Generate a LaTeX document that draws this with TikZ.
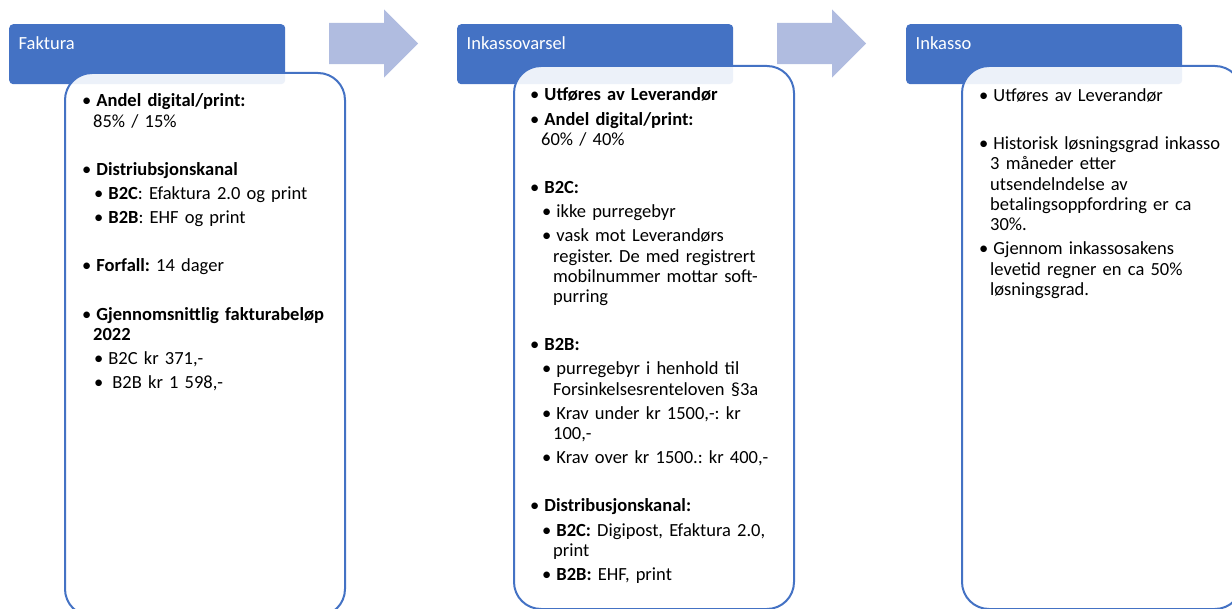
\documentclass[tikz,border=0pt]{standalone}
\usepackage{fontspec}
\setmainfont{Carlito}
\usepackage{xcolor}
\usepackage{tikz}
\usetikzlibrary{shapes.arrows, positioning, calc}

\definecolor{stageblue}{HTML}{4472C4}
\definecolor{flowblue}{HTML}{B0BCE0}

% bullet lists used in the three boxes (#1 = indent, #2 = space above)
\newenvironment{pkt}[2]{\begin{list}{\textbullet}{%
    \setlength{\leftmargin}{#1}\setlength{\labelwidth}{6pt}%
    \setlength{\labelsep}{5pt}\setlength{\itemsep}{3.8pt}%
    \setlength{\parsep}{0pt}\setlength{\topsep}{#2}%
    \setlength{\partopsep}{0pt}\setlength{\itemindent}{0pt}}}{\end{list}}
\newcommand{\blankline}{\item[]\mbox{}}

\begin{document}
\begin{tikzpicture}[
    x=1pt, y=-1pt,
    stagehead/.style={rectangle, fill=stageblue, rounded corners=4pt, minimum width=276pt, minimum height=60pt, anchor=north west, inner sep=0pt},
    stagelabel/.style={anchor=base west, inner sep=0pt, text=white, font=\fontsize{18.5}{20.3}\selectfont},
    stagebox/.style={rectangle, draw=stageblue, line width=2pt, fill=white, fill opacity=0.9, rounded corners=27pt, minimum width=280pt, minimum height=543pt, anchor=north west, inner sep=0pt},
    stagetext/.style={anchor=north west, inner sep=0pt, align=left, font=\fontsize{18.5}{20.3}\selectfont\frenchspacing},
    flowarrow/.style={single arrow, fill=flowblue, single arrow head extend=13.5pt, single arrow head indent=0pt, minimum height=89pt, inner xsep=0pt, inner ysep=20.5pt, anchor=tail}
]
    \useasboundingbox (0,0) rectangle (1232,609);

    % headers
    \node[stagehead] (faktura) at (9,24) {};
    \node[stagehead] (varsel) at (457,24) {};
    \node[stagehead] (inkasso) at (906,24) {};
    \node[stagelabel] (fakturalbl) at ($(faktura.north west)+(9.5,25.5)$) {Faktura};
    \node[stagelabel] (varsellbl) at ($(varsel.north west)+(9.5,25.5)$) {Inkassovarsel};
    \node[stagelabel] (inkassolbl) at ($(inkasso.north west)+(9.5,25.5)$) {Inkasso};

    % arrows between the stages
    \node[flowarrow] (pil1) at (329,43.5) {};
    \node[flowarrow] (pil2) at (777,43.5) {};

    % boxes
    \node[stagebox] (fakturabox) at (64,72) {};
    \node[stagebox] (varselbox) at (513,65) {};
    \node[stagebox] (inkassobox) at (961,65) {};

    \node[stagetext, text width=250pt] (fakturatxt) at (83,86.5) {%
    \begin{pkt}{10pt}{0pt}
        \item \textbf{Andel digital/print:}\newline 85\% / 15\%
        \blankline
        \item \textbf{Distriubsjonskanal}
        \begin{pkt}{12pt}{3.8pt}
            \item \textbf{B2C}: Efaktura 2.0 og print
            \item \textbf{B2B}: EHF og print
        \end{pkt}
        \blankline
        \item \textbf{Forfall:} 14 dager
        \blankline
        \item \textbf{Gjennomsnittlig fakturabeløp}\newline\textbf{2022}
        \begin{pkt}{12pt}{3.8pt}
            \item B2C kr 371,-
            \item \hspace{4pt}B2B kr 1 598,-
        \end{pkt}
    \end{pkt}};

    \node[stagetext, text width=255pt] (varseltxt) at (532,80.5) {%
    \begin{pkt}{9pt}{0pt}
        \item \textbf{Utføres av Leverandør}
        \item \textbf{Andel digital/print:}\newline 60\% / 40\%
        \blankline
        \item \textbf{B2C:}
        \begin{pkt}{12pt}{3.8pt}
            \item ikke purregebyr
            \item vask mot Leverandørs\newline register. De med registrert\newline mobilnummer mottar soft-\newline purring
        \end{pkt}
        \blankline
        \item \textbf{B2B:}
        \begin{pkt}{12pt}{3.8pt}
            \item purregebyr i henhold til\newline Forsinkelsesrenteloven §3a
            \item Krav under kr 1500,-: kr\newline 100,-
            \item Krav over kr 1500.: kr 400,-
        \end{pkt}
        \blankline
        \item \textbf{Distribusjonskanal:}
        \begin{pkt}{12pt}{3.8pt}
            \item \textbf{B2C:} Digipost, Efaktura 2.0,\newline print
            \item \textbf{B2B:} EHF, print
        \end{pkt}
    \end{pkt}};

    \node[stagetext, text width=245pt] (inkassotxt) at (982,81) {%
    \begin{pkt}{8pt}{0pt}
        \item Utføres av Leverandør
        \blankline
        \item Historisk løsningsgrad inkasso\newline 3 måneder etter\newline utsendelndelse av\newline betalingsoppfordring er ca\newline 30\%.
        \item Gjennom inkassosakens\newline levetid regner en ca 50\%\newline løsningsgrad.
    \end{pkt}};
\end{tikzpicture}
\end{document}
